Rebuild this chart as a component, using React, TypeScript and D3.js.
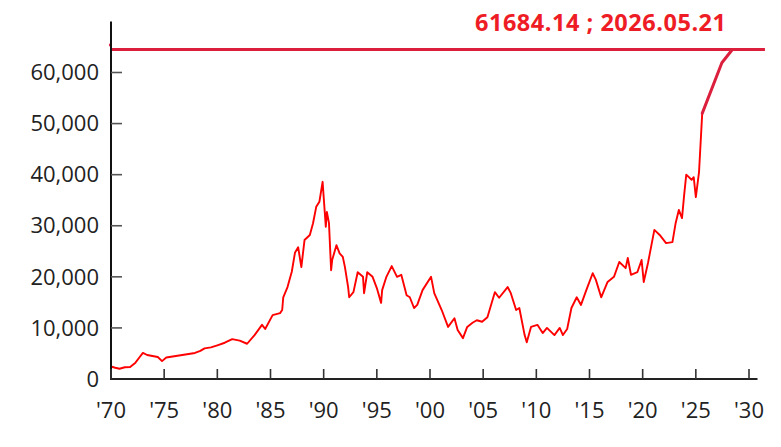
import React from 'react';
import * as d3 from 'd3';

// Nikkei-style index: [decimal year, value]
const seriesYears = [
  1970.0, 1970.4, 1970.8, 1971.3, 1971.8, 1972.3, 1972.7, 1973.0, 1973.4, 1973.9,
  1974.4, 1974.8, 1975.2, 1975.5, 1976.1, 1976.7, 1977.3, 1977.9, 1978.4, 1978.8,
  1979.4, 1980.0, 1980.7, 1981.4, 1982.1, 1982.8, 1983.5, 1984.2, 1984.5, 1985.2,
  1985.9, 1986.1, 1986.2, 1986.6, 1987.0, 1987.3, 1987.6, 1987.9, 1988.2, 1988.7,
  1989.0, 1989.3, 1989.6, 1989.9, 1990.2, 1990.3, 1990.5, 1990.7, 1990.8, 1991.2,
  1991.5, 1991.8, 1992.0, 1992.3, 1992.4, 1992.8, 1993.2, 1993.7, 1993.8, 1994.1,
  1994.6, 1995.0, 1995.4, 1995.5, 1995.9, 1996.4, 1996.9, 1997.3, 1997.8, 1998.1,
  1998.5, 1998.8, 1999.3, 2000.1, 2000.4, 2001.1, 2001.7, 2002.3, 2002.6, 2003.1,
  2003.5, 2004.0, 2004.4, 2004.9, 2005.4, 2006.1, 2006.5, 2007.3, 2007.6, 2008.1,
  2008.4, 2008.9, 2009.1, 2009.5, 2010.1, 2010.6, 2011.0, 2011.7, 2012.2, 2012.5,
  2012.9, 2013.3, 2013.8, 2014.2, 2014.7, 2015.3, 2015.6, 2016.1, 2016.7, 2017.3,
  2017.8, 2018.4, 2018.6, 2018.9, 2019.5, 2019.9, 2020.1, 2020.5, 2021.1, 2021.6,
  2022.2, 2022.8, 2023.1, 2023.4, 2023.7, 2023.9, 2024.1, 2024.6, 2024.8, 2025.0,
  2025.3, 2025.6
];
const seriesValues = [
  2450, 2200, 2000, 2300, 2350, 3200, 4300, 5100, 4700, 4500,
  4300, 3500, 4200, 4300, 4500, 4700, 4900, 5100, 5500, 6000,
  6200, 6600, 7100, 7800, 7500, 6900, 8600, 10600, 9800, 12500,
  12900, 13500, 16000, 18000, 21000, 24700, 25800, 21900, 27200, 28200,
  30500, 33700, 34700, 38600, 29800, 32700, 30500, 21300, 23300, 26200,
  24600, 23900, 21900, 18000, 16000, 17000, 20900, 20000, 16800, 20900,
  20000, 17800, 14900, 17400, 20000, 22100, 20000, 20400, 16400, 16000,
  13900, 14500, 17400, 20000, 16800, 13500, 10200, 11900, 9600, 8000,
  10200, 11000, 11500, 11200, 12100, 17000, 15900, 18000, 16800, 13500,
  13900, 8600, 7200, 10200, 10600, 9000, 10000, 8600, 10000, 8600,
  9800, 13900, 16000, 14500, 17400, 20700, 19400, 16000, 19000, 20000,
  22900, 21700, 23700, 20400, 20900, 23300, 19000, 22700, 29200, 28200,
  26600, 26800, 30500, 33100, 31500, 36000, 40000, 39000, 39500, 35600,
  40500, 52000
];

// thick continuation towards the reference line
const projYears = [2025.6, 2027.45, 2028.4];
const projValues = [52000, 61900, 64400];

const refValue = 64500;
const refLabel = '61684.14 ; 2026.05.21';

const yTicks = [0, 10000, 20000, 30000, 40000, 50000, 60000];
const xTicks = [1970, 1975, 1980, 1985, 1990, 1995, 2000, 2005, 2010, 2015, 2020, 2025, 2030];

const W = 781;
const H = 447;

const App: React.FC = () => {
  const x = d3.scaleLinear().domain([1970, 2030]).range([111, 749]);
  const y = d3.scaleLinear().domain([0, 60000]).range([379, 72.5]);

  const data = seriesYears.map((yr, i) => [yr, seriesValues[i]] as [number, number]);
  const proj = projYears.map((yr, i) => [yr, projValues[i]] as [number, number]);
  const line = d3.line<[number, number]>().x(d => x(d[0])).y(d => y(d[1]));

  const fmt = d3.format(',');
  const font = '"Open Sans", "Noto Sans", sans-serif';

  return (
    <svg width={W} height={H} style={{ position: 'absolute', left: 0, top: 0, background: '#fff' }}>
      {/* reference level */}
      <line x1={x(1970)} x2={x(2031.5)} y1={y(refValue)} y2={y(refValue)}
        stroke="#dc1f3c" strokeWidth={3} />
      <circle cx={x(1969.95)} cy={y(65400)} r={1.6} fill="#dc1f3c" />
      <text x={726} y={31} textAnchor="end" fontFamily={font} fontWeight="bold"
        fontSize={23.5} fill="#ee1c25" textLength={251} lengthAdjust="spacing">{refLabel}</text>

      {/* series */}
      <path d={line(data) || ''} fill="none" stroke="#ff0000" strokeWidth={1.9}
        strokeLinejoin="round" />
      <path d={line(proj) || ''} fill="none" stroke="#dc1f3c" strokeWidth={3}
        strokeLinejoin="round" strokeLinecap="round" />

      {/* y axis */}
      <line x1={x(1970)} x2={x(1970)} y1={y(0) + 1} y2={y(70000)} stroke="#111" strokeWidth={2} />
      {yTicks.map(t => (
        <g key={t}>
          <line x1={x(1970)} x2={x(1970) + 11} y1={y(t)} y2={y(t)} stroke="#555" strokeWidth={1.6} />
          <text x={99} y={y(t)} dy="0.35em" textAnchor="end" fontFamily={font}
            fontSize={22} fill="#222">{fmt(t)}</text>
        </g>
      ))}

      {/* x axis */}
      <line x1={x(1970) - 1} x2={x(2030.8)} y1={y(0)} y2={y(0)} stroke="#222" strokeWidth={2} />
      {xTicks.map(t => (
        <g key={t}>
          <line x1={x(t)} x2={x(t)} y1={y(0)} y2={y(0) - 10} stroke="#333" strokeWidth={1.6} />
          <text x={x(t)} y={418} textAnchor="middle" fontFamily={font}
            fontSize={22} fill="#222">{`'${String(t % 100).padStart(2, '0')}`}</text>
        </g>
      ))}
    </svg>
  );
};

export default App;
